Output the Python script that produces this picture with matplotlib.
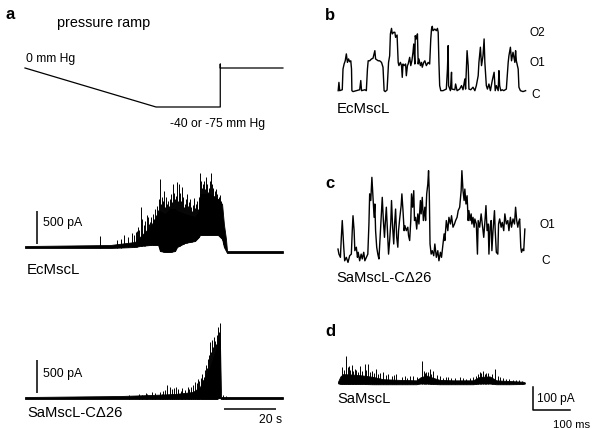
import numpy as np
import matplotlib
matplotlib.use("Agg")
import matplotlib.pyplot as plt

plt.rcParams['font.family'] = ['Liberation Sans', 'DejaVu Sans']

W, H = 600, 431
fig = plt.figure(figsize=(W / 100, H / 100), dpi=100)

# ---------------- data ----------------
# pressure ramp (s, mm Hg)
ramp_t = [0, 50.4, 75.1, 75.1, 75.1, 99.2]
ramp_p = [0, -40, -40, 4, 0, 0]

# EcMscL macroscopic trace (s, pA): dense body envelope + single spikes
eco_t = [0, 32.7, 42.3, 44.2, 48.1, 51.2, 51.9, 53.8, 55.8, 57.7, 58.5, 61.5,
         65.4, 66.9, 67.3, 71.2, 74.2, 75.8, 76.5, 77.3, 77.7, 99.2]
eco_lo = [-15, -15, 0, 15, 30, 30, -61, -76, -76, -61, 0, 61,
          91, 152, 182, 182, 182, 121, 0, -61, -91, -91]
eco_hi = [15, 30, 76, 152, 303, 500, 545, 500, 576, 576, 545, 500,
          455, 545, 803, 803, 727, 651, 348, 121, -61, -61]
eco_spk_t = [28.8, 35.4, 36.9, 38.1, 39.6, 41.2, 43.1, 44.6, 46.2, 47.3, 48.1, 49.2,
             50.0, 50.8, 51.5, 51.9, 52.7, 53.5, 54.6, 55.8, 56.9, 57.7, 58.5, 59.2,
             60.4, 61.5, 62.3, 63.5, 64.2, 65.0, 65.8, 66.5, 67.3, 68.5, 69.6, 70.4,
             71.5, 72.7, 73.5, 74.2, 75.0, 76.5,
             42.0, 42.6, 43.6, 44.0, 45.0, 45.6, 46.8, 47.8, 48.6, 49.6, 50.4, 51.2,
             52.3, 53.1, 53.9, 54.2, 55.0, 55.4, 56.3, 56.6, 57.3, 58.1, 58.9, 59.6,
             60.0, 60.8, 61.1, 61.9, 62.7, 63.1, 63.9, 64.6, 65.4, 66.2, 66.9, 67.7,
             68.1, 68.9, 69.2, 70.0, 70.8, 71.2, 71.9, 72.3, 73.1, 73.8, 74.6, 75.4,
             75.9, 76.2]
eco_spk_i = [167, 106, 121, 182, 152, 212, 242, 606, 394, 455, 379, 500,
             576, 621, 727, 1030, 758, 848, 651, 727, 954, 727, 985, 954,
             909, 651, 803, 727, 545, 742, 651, 576, 1121, 954, 1060, 833,
             1121, 773, 879, 727, 788, 242,
             180, 230, 300, 250, 420, 330, 480, 350, 450, 420, 480, 560,
             650, 700, 600, 750, 700, 620, 800, 680, 820, 780, 700, 820,
             700, 760, 600, 720, 620, 680, 600, 640, 590, 700, 750, 1000,
             900, 1000, 880, 950, 900, 1000, 950, 900, 850, 800, 760, 700,
             500, 400]

# SaMscL-CΔ26 macroscopic trace (s, pA)
sa_t = [0, 36.5, 48.1, 57.7, 64.6, 67.3, 69.2, 71.2, 72.7, 73.8, 74.6, 75.0, 75.4, 99.2]
sa_lo = [-15, -15, -15, -15, -15, -15, -15, -15, -15, -15, 0, 0, -15, -15]
sa_hi = [15, 30, 45, 61, 91, 167, 318, 470, 651, 773, 894, 818, 15, 15]
sa_spk_t = [40.0, 43.8, 46.5, 48.8, 51.9, 53.1, 54.6, 55.8, 57.3, 58.1, 60.4, 61.5,
            62.7, 64.6, 65.4, 66.5, 68.1, 68.8, 69.6, 70.4, 71.2, 71.9, 72.7, 73.5,
            74.2, 75.0, 76.2, 77.3,
            45.0, 47.0, 50.0, 52.5, 54.0, 56.5, 59.0, 60.0, 63.0, 64.0, 66.0, 67.0,
            67.6, 68.4, 69.2, 69.9, 70.8, 71.5, 72.3, 73.1, 73.8, 74.6]
sa_spk_i = [45, 61, 76, 91, 91, 106, 197, 167, 152, 167, 152, 121,
            167, 197, 242, 288, 364, 318, 500, 591, 848, 879, 924, 818,
            1075, 1136, 45, 30,
            40, 55, 70, 60, 120, 130, 140, 100, 140, 170, 220, 250,
            300, 280, 420, 450, 650, 700, 780, 860, 950, 1000]

# b: EcMscL single channel (ms, pA)
b_t = [14, 16, 18, 25, 27, 30, 33, 36, 39, 42, 45, 48, 50, 51, 54, 63, 72, 75, 77, 86,
       90, 93, 95, 99, 104, 108, 113, 115, 122, 126, 131, 135, 138, 141, 146, 150, 153,
       155, 158, 160, 164, 167, 169, 173, 176, 178, 182, 185, 187, 189, 192, 196, 198,
       201, 203, 207, 210, 213, 216, 218, 221, 222, 225, 228, 230, 232, 236, 239, 241,
       245, 248, 252, 257, 261, 264, 266, 268, 270, 275, 279, 282, 284, 286, 288, 291,
       297, 302, 306, 309, 311, 312, 317, 320, 321, 329, 331, 335, 342, 347, 351, 356,
       358, 362, 365, 367, 372, 378, 383, 387, 392, 394, 398, 401, 405, 408, 410, 414,
       417, 421, 425, 430, 435, 438, 441, 446, 448, 450, 453, 457, 461, 468, 473, 475,
       479, 482, 486, 491, 493, 495, 500, 502, 506, 513, 520]
b_i = [0, 36, 0, 4, 94, 116, 130, 160, 123, 138, 126, 130, 94, 0, -4, 0, 4, 44, 0, 4,
       0, 94, 130, 130, 138, 141, 174, 138, 130, 130, 123, 102, 0, -4, 3, 123, 152,
       247, 271, 247, 254, 254, 232, 242, 123, 109, 123, 109, 58, 116, 109, 116, 65,
       109, 116, 145, 109, 130, 167, 203, 116, 239, 225, 247, 116, 138, 109, 123, 102,
       123, 130, 109, 123, 116, 225, 268, 280, 261, 268, 261, 271, 254, 123, 22, 0,
       0, 4, 7, 94, 196, 22, 0, 80, 7, 4, 29, 0, 7, 22, 4, 51,
       7, 174, 109, 7, 4, 15, 0, 22, 65, 123, 189, 109, 152, 225, 123, 22,
       7, 29, 0, 44, 80, 0, 22, 0, 87, 22, 0, 4, 0, 7, 123, 152,
       189, 130, 167, 123, 174, 130, 94, 15, 0, -4, 0]

# c: SaMscL-CΔ26 single channel (ms, pA)
c_t = [13.5, 16, 20, 22.5, 25, 29, 31.5, 36, 40.5, 45, 49.5, 52, 54, 57, 59, 63, 66, 68,
       72, 76, 79, 83, 86, 90, 94, 97, 99, 102, 105, 108, 111, 113, 115, 118, 121, 124,
       128, 130, 133, 136, 139, 141, 144, 147, 150, 153, 156, 158, 161, 164, 166, 169,
       172, 175, 177, 180, 184, 186, 189, 192, 194, 198, 202, 204, 207, 210, 212, 215,
       218, 220, 223, 226, 229, 232, 236, 238, 241, 244, 248, 250, 253, 256, 258, 260,
       262, 265, 268, 272, 275, 279, 283, 286, 290, 293, 297, 300, 302, 306, 310, 313,
       317, 320, 324, 328, 331, 335, 338, 342, 346, 348, 351, 354, 356, 359, 362, 365,
       367, 370, 373, 375, 378, 381, 383, 387, 390, 392, 396, 400, 403, 407, 410, 413,
       416, 419, 421, 424, 427, 429, 432, 436, 438, 441, 445, 447, 450, 454, 457, 461,
       464, 468, 472, 475, 479, 482, 486, 490, 493, 496, 499, 501, 504, 507, 509, 512,
       515, 518]
c_i = [36, 14, 0, 87, 160, 44, -15, 0, -22, 7, 14, 116, 181, 116, 29, 44, 0, 22,
       -15, 14, -7, 22, -15, 0, 14, 145, 276, 247, 348, 261, 174, 232, 116, 44, 14, -7,
       116, 174, 261, 160, 87, 145, 218, 116, 14, 73, 152, 247, 131, 58, 138, 210,
       87, 44, 116, 167, 225, 276, 203, 116, 138, 116, 131, 94, 73, 160, 276, 218,
       290, 160, 174, 123, 189, 145, 247, 189, 261, 160, 218, 160, 276, 319, 377, 276,
       58, 14, 29, 7, 58, 0, 29, -15, 22, 0, 58, 102, 73, 160, 116, 174,
       145, 181, 131, 145, 160, 174, 203, 218, 290, 377, 290, 247, 297, 232, 268, 160,
       203, 160, 189, 145, 174, 131, 167, 145, 14, 160, 131, 189, 145, 87, 152, 225,
       116, 145, 14, 131, 160, 29, 116, 203, 116, 22, 14, 145, 167, 131, 152, 116,
       189, 145, 160, 116, 174, 131, 167, 145, 218, 160, 131, 152, 167, 44, 22, 36,
       29, 123]

# d: SaMscL (ms, pA): noisy band + spikes
d_t = [13.5, 20, 27, 54, 81, 108, 135, 180, 225, 236, 252, 270, 288, 324, 378, 396,
       423, 441, 477, 513, 518]
d_lo = [0, -3, -3, -3, -3, -4, -4, -4, -4, -1, -1, -3, -4, -4, -4, -1,
        -1, -4, -4, -3, -1]
d_hi = [7, 30, 40, 38, 34, 28, 18, 15, 13, 26, 34, 24, 15, 13, 13, 28,
        30, 13, 10, 7, 4]
d_spk_t = [25, 36, 43, 50, 59, 72, 86, 95, 106, 117, 135, 149, 171, 194, 207, 239,
           252, 261, 270, 288, 311, 342, 378, 396, 405, 414, 437, 450, 468, 486, 511,
           30, 40, 47, 55, 63, 67, 77, 90, 100, 112, 122, 128, 142, 158, 165, 185,
           200, 215, 228, 245, 248, 256, 265, 280, 296, 305, 318, 330, 350, 360, 370,
           385, 392, 400, 410, 418, 428, 445, 458, 475, 495, 503]
d_spk_i = [70, 117, 77, 80, 62, 77, 84, 84, 55, 62, 48, 41, 41, 30, 33, 99,
           51, 62, 55, 33, 26, 26, 26, 48, 55, 45, 62, 26, 19, 15, 12,
           60, 70, 60, 55, 58, 50, 55, 60, 50, 45, 40, 45, 35, 30, 35, 28,
           25, 30, 28, 55, 45, 50, 40, 35, 25, 28, 22, 25, 22, 20, 22,
           30, 40, 45, 40, 45, 40, 30, 22, 18, 15, 14]

# scale bars
a_bar_pa = 500
a_bar_s = 20
d_bar_pa = 100
d_bar_ms = 100


# ---------------- layout helpers ----------------
def make_ax(box, ox, sx, oy, sy):
    """box in pixels (x0, y0, x1, y1); data->pixel: x = ox + sx*t, y = oy - sy*v"""
    x0, y0, x1, y1 = box
    ax = fig.add_axes([x0 / W, 1 - y1 / H, (x1 - x0) / W, (y1 - y0) / H])
    ax.set_xlim((x0 - ox) / sx, (x1 - ox) / sx)
    ax.set_ylim((oy - y1) / sy, (oy - y0) / sy)
    ax.axis('off')
    return ax


def txt(x, y, s, size=8.7, weight='normal', ha='left'):
    fig.text(x / W, 1 - y / H, s, fontsize=size, fontweight=weight,
             ha=ha, va='baseline', color='black')


K = 'black'

# ---------------- panel a ----------------
ax_r = make_ax((20, 50, 290, 118), 25, 2.6, 69, 0.975)
ax_r.plot(ramp_t, ramp_p, color=K, lw=0.9)

ax_e = make_ax((20, 160, 290, 262), 25, 2.6, 248, 1 / 15.15)
ax_e.fill_between(eco_t, eco_lo, eco_hi, color=K, lw=0.6, edgecolor=K)
ax_e.vlines(eco_spk_t, np.interp(eco_spk_t, eco_t, eco_lo), eco_spk_i, color=K, lw=0.7)
ax_e.vlines([4.6], [45], [45 + a_bar_pa], color=K, lw=1.1)

ax_s = make_ax((20, 315, 290, 425), 25, 2.6, 399, 1 / 15.15)
ax_s.fill_between(sa_t, sa_lo, sa_hi, color=K, lw=0.6, edgecolor=K)
ax_s.vlines(sa_spk_t, np.interp(sa_spk_t, sa_t, sa_lo), sa_spk_i, color=K, lw=0.7)
ax_s.vlines([4.6], [76], [76 + a_bar_pa], color=K, lw=1.1)
ax_s.hlines([-167], [76.5], [76.5 + a_bar_s], color=K, lw=1.1)

txt(6, 19, 'a', size=12, weight='bold')
txt(57, 27, 'pressure ramp', size=10.4)
txt(26, 62, '0 mm Hg', size=8.7)
txt(170, 127, '-40 or -75 mm Hg', size=8.7)
txt(43, 226, '500 pA', size=8.9)
txt(27, 274, 'EcMscL', size=10.8)
txt(43, 377, '500 pA', size=8.9)
txt(27, 417, 'SaMscL-C\u039426', size=10.6)
txt(259, 423, '20 s', size=8.8)

# ---------------- panel b ----------------
ax_b = make_ax((330, 15, 530, 100), 333, 1 / 2.7, 91.67, 1 / 4.35)
ax_b.plot(b_t, b_i, color=K, lw=1.0)
txt(325, 20, 'b', size=12, weight='bold')
txt(530, 36, 'O2', size=8.6)
txt(530, 66, 'O1', size=8.6)
txt(531, 98, 'C', size=8.6)
txt(337, 113, 'EcMscL', size=10.8)

# ---------------- panel c ----------------
ax_c = make_ax((330, 165, 530, 270), 333, 1 / 2.7, 258.33, 1 / 4.35)
ax_c.plot(c_t, c_i, color=K, lw=1.0)
txt(325, 188, 'c', size=12, weight='bold')
txt(540, 228, 'O1', size=8.6)
txt(541, 264, 'C', size=8.6)
txt(336, 282, 'SaMscL-C\u039426', size=10.6)

# ---------------- panel d ----------------
ax_d = make_ax((330, 345, 600, 431), 333, 1 / 2.7, 384.33, 1 / 4.35)
ax_d.fill_between(d_t, d_lo, d_hi, color=K, lw=0.6, edgecolor=K)
ax_d.vlines(d_spk_t, np.interp(d_spk_t, d_t, d_lo), d_spk_i, color=K, lw=0.7)
ax_d.plot([540, 540, 540 + d_bar_ms], [-16, -16 - d_bar_pa, -16 - d_bar_pa], color=K, lw=1.1)
txt(325, 336, 'd', size=12, weight='bold')
txt(337, 403, 'SaMscL', size=10.6)
txt(537, 402, '100 pA', size=8.6)
txt(553, 428, '100 ms', size=8.1)

fig.savefig('out.png', dpi=100)
